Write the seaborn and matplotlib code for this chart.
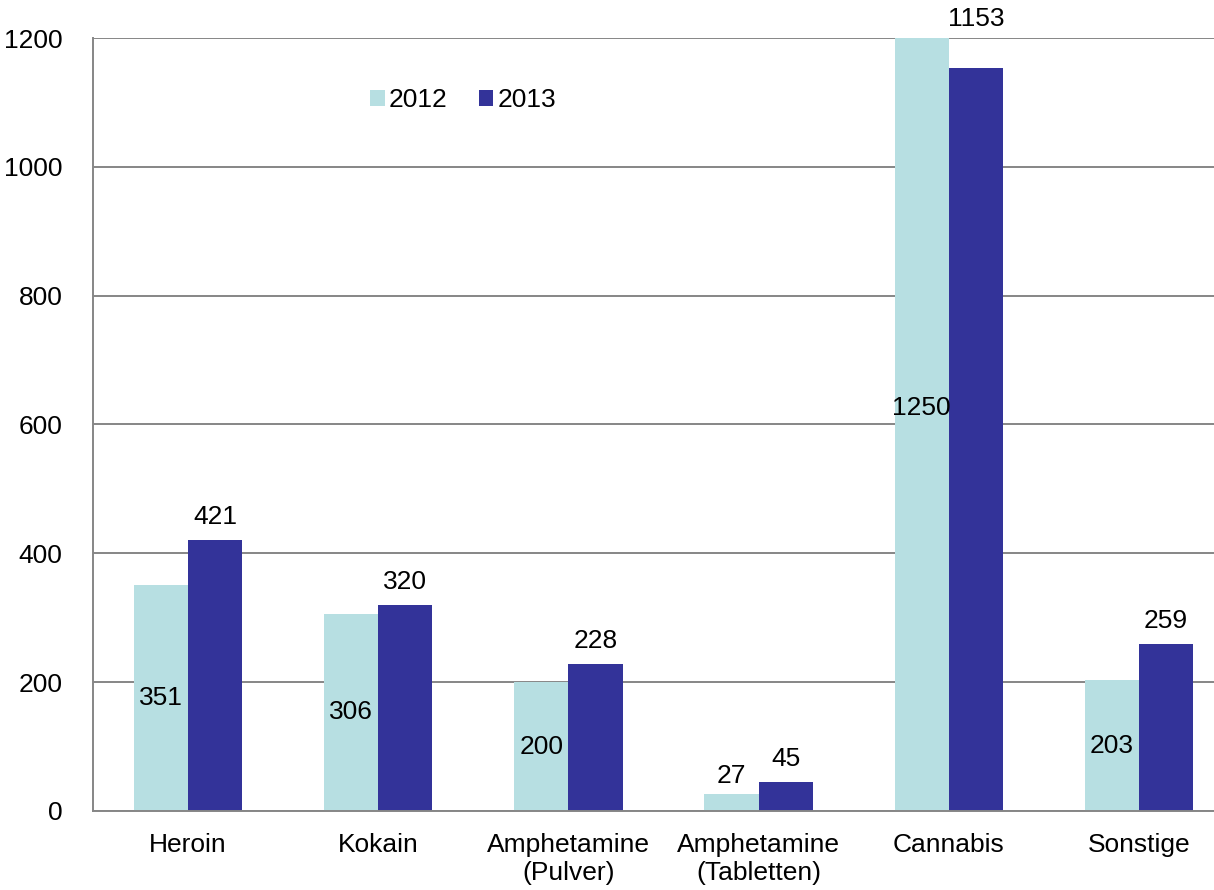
import matplotlib
matplotlib.use("Agg")
import matplotlib.pyplot as plt
import seaborn as sns
import pandas as pd

categories = ["Heroin", "Kokain", "Amphetamine\n(Pulver)", "Amphetamine\n(Tabletten)", "Cannabis", "Sonstige"]
values_2012 = [351, 306, 200, 27, 1250, 203]
values_2013 = [421, 320, 228, 45, 1153, 259]
years = ["2012", "2013"]
yticks = [0, 200, 400, 600, 800, 1000, 1200]

sns.set_theme(style="white")
plt.rcParams["font.family"] = ["Liberation Sans", "DejaVu Sans"]
plt.rcParams["text.color"] = "black"

df = pd.DataFrame({
    "Kategorie": categories * 2,
    "Jahr": [years[0]] * len(categories) + [years[1]] * len(categories),
    "Wert": values_2012 + values_2013,
})

fig = plt.figure(figsize=(12.14, 8.9), dpi=100)
# the plot area runs a little past the right edge of the figure
ax = fig.add_axes([0.0766, 0.0888, 0.9399, 0.8685])

palette = {"2012": "#B7DFE2", "2013": "#333399"}
sns.barplot(data=df, x="Kategorie", y="Wert", hue="Jahr", palette=palette,
            width=0.57, gap=0, saturation=1, ax=ax, order=categories,
            hue_order=years, legend=True, linewidth=0, edgecolor="none")

ax.set_ylim(0, 1200)
ax.set_yticks(yticks)
ax.set_xlim(-0.5, len(categories) - 0.5)
ax.yaxis.grid(True, color="#868686", linewidth=1.4)
ax.set_axisbelow(True)
for side in ["top", "right"]:
    ax.spines[side].set_visible(False)
for side in ["left", "bottom"]:
    ax.spines[side].set_color("#868686")
    ax.spines[side].set_linewidth(1.4)
fs = 19
ax.tick_params(axis="both", length=0, labelsize=fs, colors="black")
ax.tick_params(axis="x", pad=16)
ax.tick_params(axis="y", pad=22)
ax.set_xlabel("")
ax.set_ylabel("")

containers = ax.containers
# 2012 values: centred in the bar, above it when the bar is too short
for bar, v in zip(containers[0], values_2012):
    cx = bar.get_x() + bar.get_width() / 2
    if v < 60:
        ax.annotate(str(v), (cx, v), xytext=(0, 4), textcoords="offset points",
                    ha="center", va="bottom", fontsize=fs, color="black")
    else:
        ax.text(cx, v / 2, str(v), ha="center", va="center", fontsize=fs, color="black")
# 2013 values: above the bar
for bar, v in zip(containers[1], values_2013):
    cx = bar.get_x() + bar.get_width() / 2
    if v > 1100:
        ax.annotate(str(v), (cx, 1200), xytext=(0, 5), textcoords="offset points",
                    ha="center", va="bottom", fontsize=fs, color="black",
                    annotation_clip=False)
    else:
        ax.annotate(str(v), (cx, v), xytext=(0, 8), textcoords="offset points",
                    ha="center", va="bottom", fontsize=fs, color="black")

leg = ax.legend(loc="upper left", bbox_to_anchor=(0.222, 0.966), ncol=2, frameon=False,
                fontsize=fs, handlelength=0.55, handleheight=0.55, handletextpad=0.15,
                columnspacing=1.2, title=None)
for t in leg.get_texts():
    t.set_color("black")

fig.savefig("out.png", dpi=100)
